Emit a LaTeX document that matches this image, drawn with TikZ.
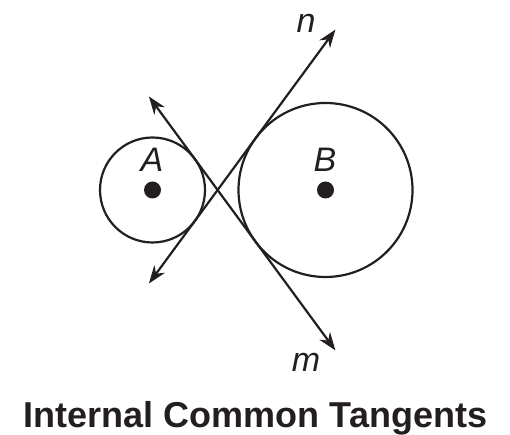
\documentclass[tikz,border=0pt]{standalone}
\usepackage{fontspec}
\setmainfont{Liberation Sans}
\usetikzlibrary{arrows.meta,calc}
\definecolor{ink}{HTML}{231F20}
\begin{document}
\begin{tikzpicture}[x=1pt,y=1pt,
  circ/.style={draw=ink,line width=2.2pt},
  tangent/.style={draw=ink,line width=2.2pt,{Stealth[length=18pt,width=13pt]}-{Stealth[length=18pt,width=13pt]}},
  ctr/.style={circle,fill=ink,inner sep=0pt,minimum size=17pt},
  lbl/.style={font=\fontsize{34}{40}\selectfont\itshape,text=ink,inner sep=0pt,anchor=base},
  ttl/.style={font=\fontsize{36}{42}\selectfont\bfseries,text=ink,inner sep=0pt,anchor=base}]
\useasboundingbox (0,0) rectangle (510,435);
\coordinate (A) at (152.5,245);
\coordinate (B) at (325.5,245);
\coordinate (P) at (217.6,245);
\draw[circ] (A) circle[radius=52.5];
\draw[circ] (B) circle[radius=87];
\node[ctr] (dA) at (A) {};
\node[ctr] (dB) at (B) {};
\coordinate (n1) at ($(P)+(233.7:116)$);
\coordinate (n2) at ($(P)+(53.7:199)$);
\coordinate (m1) at ($(P)+(126.3:116)$);
\coordinate (m2) at ($(P)+(-53.7:199)$);
\draw[tangent] (n1) -- (n2);
\draw[tangent] (m1) -- (m2);
\node[lbl] (lA) at (152,263) {A};
\node[lbl] (lB) at (325,263) {B};
\node[lbl] (ln) at (306,402) {n};
\node[lbl] (lm) at (306,63) {m};
\node[ttl] (title) at (255.5,7) {Internal Common Tangents};
\end{tikzpicture}
\end{document}
